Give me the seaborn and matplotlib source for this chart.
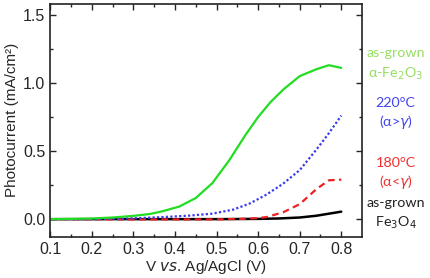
import numpy as np
import pandas as pd
import matplotlib
matplotlib.use("Agg")
import matplotlib.pyplot as plt
import seaborn as sns

# values
v_green = [0.10, 0.15, 0.20, 0.25, 0.30, 0.34, 0.37, 0.41, 0.45, 0.49, 0.53, 0.57, 0.60, 0.63, 0.66, 0.70, 0.74, 0.77, 0.80]
j_green = [0.00, 0.002, 0.005, 0.012, 0.024, 0.038, 0.058, 0.092, 0.155, 0.265, 0.43, 0.62, 0.75, 0.86, 0.95, 1.05, 1.10, 1.13, 1.11]

v_blue = [0.10, 0.20, 0.30, 0.37, 0.43, 0.49, 0.54, 0.58, 0.62, 0.66, 0.70, 0.74, 0.77, 0.80]
j_blue = [0.00, 0.00, 0.006, 0.015, 0.025, 0.04, 0.07, 0.115, 0.18, 0.26, 0.36, 0.51, 0.63, 0.76]

v_red = [0.10, 0.30, 0.50, 0.56, 0.60, 0.62, 0.66, 0.70, 0.74, 0.77, 0.80]
j_red = [0.00, -0.002, -0.002, 0.002, 0.008, 0.015, 0.05, 0.11, 0.22, 0.285, 0.29]

v_black = [0.10, 0.30, 0.50, 0.60, 0.65, 0.70, 0.74, 0.77, 0.80]
j_black = [0.00, 0.00, 0.00, 0.002, 0.005, 0.012, 0.025, 0.04, 0.055]

sns.set_style("ticks")
plt.rcParams['font.family'] = ['Liberation Sans', 'DejaVu Sans']

fig, ax = plt.subplots(figsize=(4.3, 2.78), dpi=100)
fig.subplots_adjust(left=0.117, right=0.842, top=0.986, bottom=0.148)

sns.lineplot(x=v_black, y=j_black, ax=ax, color="black", linewidth=1.8)
sns.lineplot(x=v_red, y=j_red, ax=ax, color="#ee2020", linewidth=1.6, linestyle=(0, (3, 2)))
sns.lineplot(x=v_blue, y=j_blue, ax=ax, color="#3a3aee", linewidth=1.6, linestyle=(0, (1, 1)))
sns.lineplot(x=v_green, y=j_green, ax=ax, color="#22dd22", linewidth=1.6)

ax.set_xlim(0.1, 0.85)
ax.set_ylim(-0.13, 1.58)
ax.set_xticks([0.1, 0.2, 0.3, 0.4, 0.5, 0.6, 0.7, 0.8])
ax.set_yticks([0.0, 0.5, 1.0, 1.5])
ax.set_xticks(np.arange(0.15, 0.85, 0.1), minor=True)
ax.set_yticks([0.25, 0.75, 1.25], minor=True)
ax.tick_params(which="both", direction="in", top=True, right=True, labelsize=11.5, width=1)
ax.tick_params(which="major", length=4)
ax.tick_params(which="minor", length=2.5)
for s in ax.spines.values():
    s.set_linewidth(1.2)
    s.set_color("#222222")

ax.set_xlabel("V $\\it{vs}$. Ag/AgCl (V)", fontsize=11, labelpad=1)
ax.set_ylabel("Photocurrent (mA/cm²)", fontsize=11, labelpad=3)

lab = dict(fontsize=10.3, ha="center", va="center", family=["Lato", "DejaVu Sans"])
fig.text(0.92, 0.81, "as-grown", color="#96de62", **lab)
fig.text(0.92, 0.735, "α-Fe$_2$O$_3$", color="#96de62", **lab)
fig.text(0.92, 0.63, "220°C", color="#4444ee", **lab)
fig.text(0.92, 0.56, "(α>$\\gamma$)", color="#4444ee", **lab)
fig.text(0.92, 0.415, "180°C", color="#ee3030", **lab)
fig.text(0.92, 0.345, "(α<$\\gamma$)", color="#ee3030", **lab)
fig.text(0.92, 0.27, "as-grown", color="#222222", **lab)
fig.text(0.92, 0.20, "Fe$_3$O$_4$", color="#222222", **lab)

fig.savefig("out.png", dpi=100)
